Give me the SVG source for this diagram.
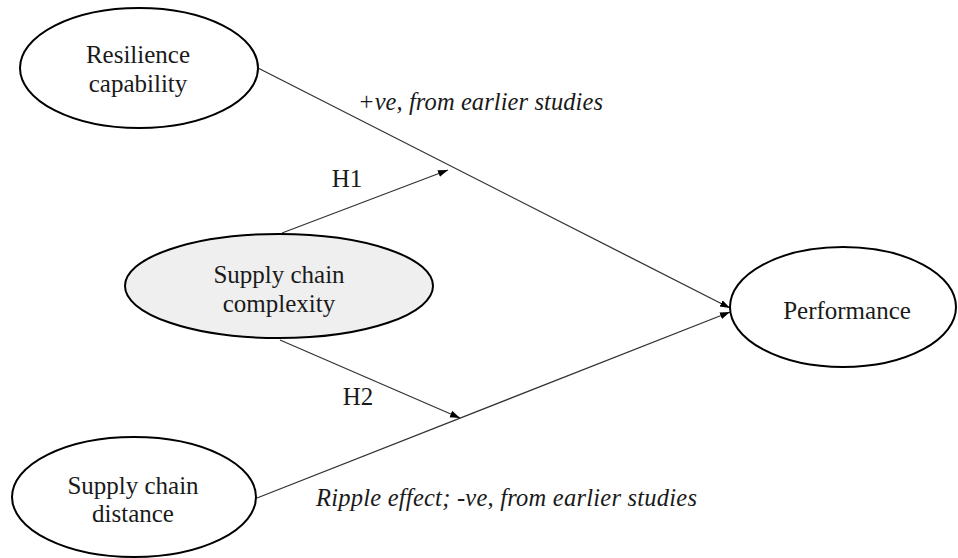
<svg xmlns="http://www.w3.org/2000/svg" width="958" height="558" viewBox="0 0 958 558">
  <style>
    .node { fill: #ffffff; stroke: #000000; stroke-width: 2; }
    .shaded { fill: #efefef; }
    .lbl { font-family: "Liberation Serif", "Times New Roman", serif; font-size: 25px; fill: #1a1a1a; text-anchor: middle; }
    .note { font-family: "Liberation Serif", "Times New Roman", serif; font-size: 24.5px; font-style: italic; fill: #1a1a1a; }
    .edge { stroke: #333333; stroke-width: 1.3; fill: none; }
  </style>
  <defs>
    <marker id="arrow" markerUnits="userSpaceOnUse" markerWidth="11" markerHeight="8" refX="10" refY="3.5" orient="auto">
      <path d="M0,0 L10,3.5 L0,7 z" fill="#000000"/>
    </marker>
  </defs>
  <rect width="958" height="558" fill="#ffffff"/>

  <g id="connectors">
    <line class="edge" x1="258" y1="68" x2="730" y2="308" marker-end="url(#arrow)"/>
    <line class="edge" x1="257" y1="498" x2="730" y2="312" marker-end="url(#arrow)"/>
    <line class="edge" x1="282" y1="233" x2="448" y2="170" marker-end="url(#arrow)"/>
    <line class="edge" x1="280" y1="340" x2="460" y2="418" marker-end="url(#arrow)"/>
  </g>

  <g id="resilience">
    <ellipse class="node" cx="139" cy="68" rx="119" ry="60"/>
    <text class="lbl" x="138" y="63">Resilience</text>
    <text class="lbl" x="138" y="92">capability</text>
  </g>

  <g id="complexity">
    <ellipse class="node shaded" cx="279" cy="286" rx="154" ry="52"/>
    <text class="lbl" x="279" y="283">Supply chain</text>
    <text class="lbl" x="279" y="312">complexity</text>
  </g>

  <g id="performance">
    <ellipse class="node" cx="843" cy="307" rx="113" ry="60"/>
    <text class="lbl" x="847" y="319">Performance</text>
  </g>

  <g id="distance">
    <ellipse class="node" cx="134" cy="497" rx="122" ry="60"/>
    <text class="lbl" x="133" y="494">Supply chain</text>
    <text class="lbl" x="133" y="522">distance</text>
  </g>

  <g id="labels">
    <text class="note" x="358" y="110" textLength="245">+ve, from earlier studies</text>
    <text class="lbl" x="347" y="187">H1</text>
    <text class="lbl" x="358" y="405">H2</text>
    <text class="note" x="316" y="506" textLength="381">Ripple effect; -ve, from earlier studies</text>
  </g>
</svg>
